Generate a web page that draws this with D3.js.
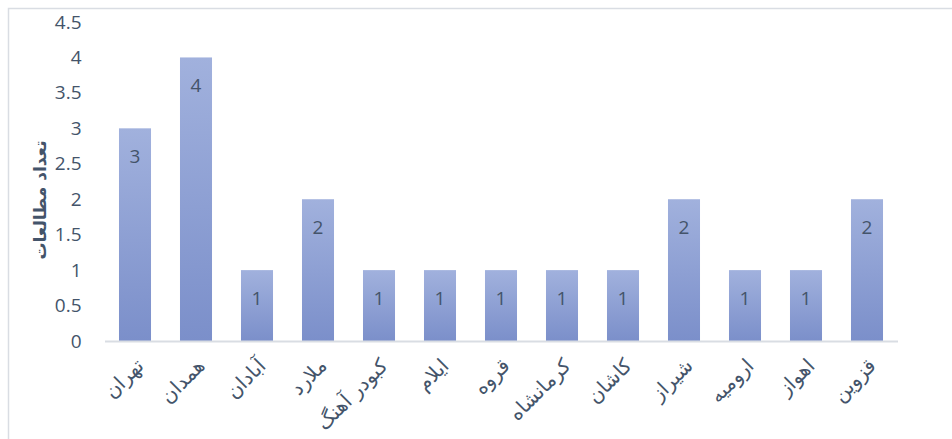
<!DOCTYPE html>
<html>
<head>
<meta charset="utf-8">
<script src="https://cdn.jsdelivr.net/npm/d3@7"></script>
<style>
  html, body { margin: 0; padding: 0; background: #fff; overflow: hidden; }
  svg { display: block; }
</style>
</head>
<body>
<svg id="chart" width="952" height="439"></svg>
<script>
// Number of studies per city
const cities = ["تهران", "همدان", "آبادان", "ملارد", "کبودر آهنگ", "ایلام", "قروه", "کرمانشاه", "کاشان", "شیراز", "ارومیه", "اهواز", "قزوین"];
const studies = [3, 4, 1, 2, 1, 1, 1, 1, 1, 2, 1, 1, 2];
const yTicks = [0, 0.5, 1, 1.5, 2, 2.5, 3, 3.5, 4, 4.5];
const yTitle = "تعداد مطالعات";

const svg = d3.select("#chart");
const textColor = "#44546a";
const latinFont = "'Open Sans', 'Noto Sans', sans-serif";
const arabicFont = "'DejaVu Sans', sans-serif";

// outer chart frame (runs past the right and bottom edges)
svg.append("rect")
  .attr("x", 8.5).attr("y", 8.5)
  .attr("width", 960).attr("height", 460)
  .attr("fill", "none").attr("stroke", "#d9dde3").attr("stroke-width", 1.5);

const plot = { left: 104.5, right: 897.5, top: 22, bottom: 341 };

const x = d3.scaleBand()
  .domain(cities)
  .range([plot.left, plot.right])
  .paddingInner(0.475)
  .paddingOuter(0.2375);

const y = d3.scaleLinear()
  .domain([0, 4.5])
  .range([plot.bottom, plot.top]);

// bar fill: light at the top, deeper toward the base
const grad = svg.append("defs").append("linearGradient")
  .attr("id", "barFill").attr("x1", 0).attr("y1", 0).attr("x2", 0).attr("y2", 1);
grad.append("stop").attr("offset", "0%").attr("stop-color", "#a1b1dd");
grad.append("stop").attr("offset", "100%").attr("stop-color", "#7b8fca");

svg.append("g").selectAll("rect")
  .data(studies)
  .join("rect")
  .attr("x", (d, i) => x(cities[i]))
  .attr("y", d => y(d))
  .attr("width", x.bandwidth())
  .attr("height", d => y(0) - y(d))
  .attr("fill", "url(#barFill)");

// y axis: labels only
const yAxis = svg.append("g")
  .attr("transform", `translate(${plot.left - 23},0)`)
  .call(d3.axisLeft(y).tickValues(yTicks).tickSize(0).tickPadding(0).tickFormat(d3.format("")));
yAxis.select(".domain").remove();
yAxis.selectAll("text")
  .attr("fill", textColor)
  .attr("font-family", latinFont)
  .attr("font-size", 19);

// x axis baseline and rotated city names
const xAxis = svg.append("g")
  .attr("transform", `translate(0,${plot.bottom})`)
  .call(d3.axisBottom(x).tickSize(0).tickPadding(0));
xAxis.select(".domain")
  .attr("stroke", "#d9dde3").attr("stroke-width", 2);
xAxis.selectAll(".tick text")
  .attr("fill", textColor)
  .attr("font-family", arabicFont)
  .attr("font-size", 20)
  .attr("text-anchor", "end")
  .attr("dy", null)
  .attr("transform", "translate(10,26) rotate(-45)");

// value labels inside the bars
svg.append("g").selectAll("text")
  .data(studies)
  .join("text")
  .attr("x", (d, i) => x(cities[i]) + x.bandwidth() / 2)
  .attr("y", d => y(d) + 35)
  .attr("text-anchor", "middle")
  .attr("fill", textColor)
  .attr("font-family", latinFont)
  .attr("font-size", 19)
  .text(d => d);

// y axis title
svg.append("text")
  .attr("transform", "translate(46,200) rotate(-90)")
  .attr("text-anchor", "middle")
  .attr("fill", textColor)
  .attr("font-family", arabicFont)
  .attr("font-weight", "bold")
  .attr("font-size", 17)
  .text(yTitle);
</script>
</body>
</html>
